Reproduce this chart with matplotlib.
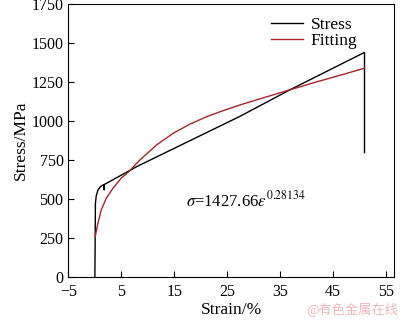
import numpy as np
import matplotlib
matplotlib.use('Agg')
import matplotlib.pyplot as plt

plt.rcParams['font.family'] = ['Liberation Serif', 'DejaVu Serif']
plt.rcParams['mathtext.fontset'] = 'stix'

# measured stress-strain curve (strain %, stress MPa)
stress_x = [0.0, 0.06, 0.10, 0.25, 0.55, 0.95, 1.40, 1.72, 1.76, 1.80, 8.13, 27.39, 36.84, 50.95, 50.95]
stress_y = [0, 239, 470, 520, 556, 577, 589, 594, 560, 595, 713, 1031, 1201, 1441, 799]

# power-law fitting curve
fit_x = [0.06, 0.57, 1.20, 2.14, 3.41, 4.97, 6.30, 8.51, 11.66, 14.80, 17.95, 21.11,
         24.24, 27.39, 32.12, 36.84, 41.56, 46.28, 50.95]
fit_y = [260, 346, 431, 506, 570, 635, 673, 752, 848, 923, 981, 1029,
         1068, 1104, 1153, 1201, 1249, 1294, 1340]

xticks = [-5, 5, 15, 25, 35, 45, 55]
yticks = [0, 250, 500, 750, 1000, 1250, 1500, 1750]

fig = plt.figure(figsize=(4, 3.23), dpi=100)
ax = fig.add_axes([0.171, 0.1415, 0.815, 0.8455])

ax.plot(stress_x, stress_y, color='black', lw=1.0, label='Stress')
ax.plot(fit_x, fit_y, color='#a82428', lw=1.0, label='Fitting')

ax.set_xlim(-5, 56.6)
ax.set_ylim(0, 1750)
ax.set_xticks(xticks)
ax.set_yticks(yticks)
ax.set_xticklabels(['\u22125'] + [str(t) for t in xticks[1:]])
ax.tick_params(direction='in', length=4, width=0.8, labelsize=11.5, top=False, right=False)
ax.tick_params(axis='x', pad=5)
ax.set_xlabel('Strain/%', fontsize=12.5, labelpad=1)
ax.set_ylabel('Stress/MPa', fontsize=12.5, labelpad=2)

ax.text(17.3, 495, r'$\sigma$=1427.66$\varepsilon^{0.28134}$', fontsize=12, va='center')

ax.legend(loc='upper left', bbox_to_anchor=(0.575, 1.01), frameon=False, fontsize=12.5,
          handlelength=1.8, handletextpad=0.45, labelspacing=0.0)

fig.text(0.995, 0.02, '@有色金属在线', color='#f2b8b8', fontsize=9.5, ha='right', va='bottom',
         family=['Noto Sans CJK SC', 'DejaVu Sans'])

fig.savefig('out.png', dpi=100)
